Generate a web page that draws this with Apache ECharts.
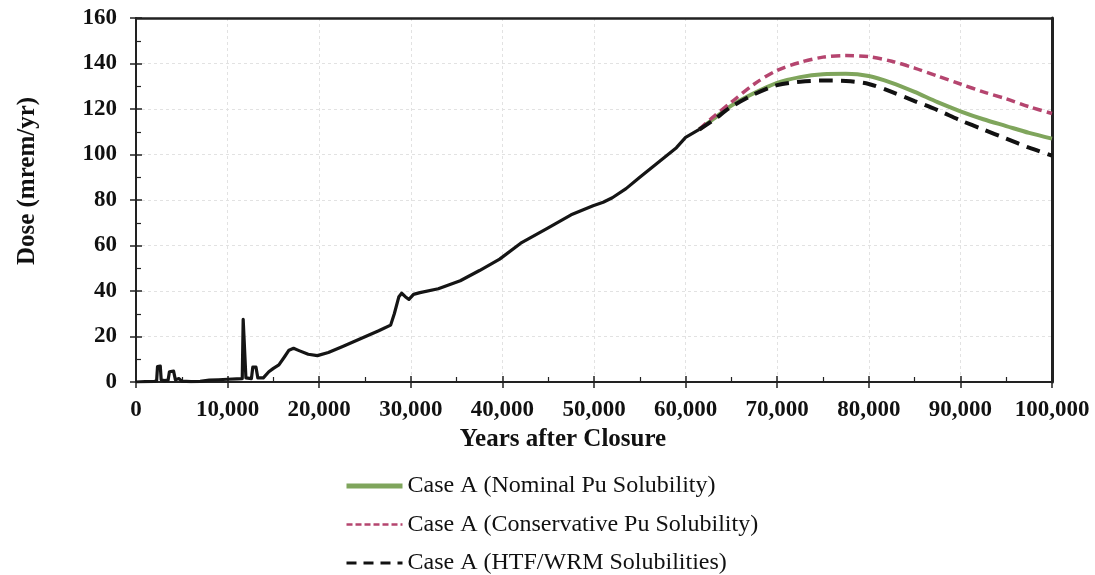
<!DOCTYPE html>
<html>
<head>
<meta charset="utf-8">
<title>Dose vs Years after Closure</title>
<script src="https://cdn.jsdelivr.net/npm/echarts@6/dist/echarts.min.js"></script>
<style>
  html, body { margin: 0; padding: 0; background: #fff; }
  #chart { width: 1095px; height: 575px; }
</style>
</head>
<body>
<div id="chart"></div>
<script>
// Dose history shared by all three cases until the curves separate (years, mrem/yr)
const sharedDose = [
  [0, 0], [1000, 0.2], [2000, 0.3], [2250, 0.5], [2350, 6.8], [2650, 7], [2750, 1],
  [3100, 0.6], [3500, 0.8], [3650, 4.5], [4100, 4.8], [4300, 1], [4700, 1.5], [5000, 0.4],
  [6000, 0.2], [7000, 0.3], [8000, 0.8], [9000, 1], [10000, 1.2], [11000, 1.4],
  [11600, 1.5], [11700, 27.5], [11900, 27.5], [12000, 1.8], [12600, 1.5], [12750, 6.5],
  [13100, 6.5], [13300, 1.8], [13900, 1.8], [14500, 4.5], [15000, 6], [15600, 7.5],
  [16200, 11], [16700, 14], [17200, 14.8], [17800, 13.8], [18800, 12.2], [19800, 11.6],
  [21000, 13], [22500, 15.5], [24500, 19], [26500, 22.5], [27800, 25], [28200, 30],
  [28700, 37.5], [29000, 39], [29400, 37.5], [29800, 36.3], [30300, 38.5], [31000, 39.3],
  [33000, 41], [35400, 44.5], [37500, 49], [39700, 54], [42000, 61], [44900, 67.5],
  [47500, 73.5], [49900, 77.5], [51000, 79], [52000, 81], [53500, 85], [55000, 90],
  [57000, 96.5], [59000, 103], [60000, 107.5], [61500, 111]
];

// Tail of each case after the curves separate
const nominalTail = [
  [61500, 111], [63000, 115.5], [65000, 121.5], [67500, 127], [70000, 131.5], [72500, 134],
  [75000, 135.3], [77500, 135.5], [80000, 134.5], [82500, 131.5], [85000, 127.5],
  [87500, 123], [90000, 119], [92500, 115.5], [95000, 112.5], [97500, 109.5], [100000, 107]
];
const conservativeTail = [
  [61500, 111], [63000, 116.5], [65000, 123], [67500, 131], [70000, 137], [72500, 140.5],
  [75000, 142.8], [77500, 143.5], [80000, 143], [82500, 141], [85000, 138], [87500, 134.5],
  [90000, 131], [92500, 127.5], [95000, 124.5], [97500, 121], [100000, 118]
];
const htfWrmTail = [
  [61500, 111], [63000, 115], [65000, 121], [67500, 126.5], [70000, 130.5], [72500, 132],
  [75000, 132.5], [77500, 132.3], [80000, 131], [82500, 127.5], [85000, 123.5],
  [87500, 119.5], [90000, 115], [92500, 111], [95000, 107], [97500, 103], [100000, 99.5]
];

const seriesNames = [
  'Case A (Nominal Pu Solubility)',
  'Case A (Conservative Pu Solubility)',
  'Case A (HTF/WRM Solubilities)'
];

const xMin = 0, xMax = 100000, xStep = 10000;
const yMin = 0, yMax = 160, yStep = 20;

const serif = '"Liberation Serif", "Times New Roman", serif';
const tickFont = { fontFamily: serif, fontWeight: 'bold', fontSize: 23, color: '#111' };
const frameColor = '#222';
const colors = { nominal: '#7fa55c', conservative: '#b5456f', htf: '#111111' };

const chart = echarts.init(document.getElementById('chart'), null, { renderer: 'canvas' });

function fmtThousands(v) {
  return v.toString().replace(/\B(?=(\d{3})+(?!\d))/g, ',');
}

const baseX = { type: 'value', min: xMin, max: xMax, interval: xStep };
const baseY = { type: 'value', min: yMin, max: yMax, interval: yStep };

// Extra axis with only inside ticks (upper half of crossing major ticks + minor ticks)
function insideTicks(base, position) {
  return Object.assign({}, base, {
    position: position,
    axisLine: { show: false },
    axisTick: { show: true, inside: true, length: 6, lineStyle: { color: frameColor, width: 1.5 } },
    minorTick: { show: true, splitNumber: 2, length: 5, lineStyle: { color: frameColor, width: 1.2 } },
    axisLabel: { show: false },
    splitLine: { show: false }
  });
}
// Axis that only draws a frame edge
function frameEdge(base, position, width) {
  return Object.assign({}, base, {
    position: position,
    axisLine: { show: true, onZero: false, lineStyle: { color: frameColor, width: width } },
    axisTick: { show: false },
    axisLabel: { show: false },
    splitLine: { show: false }
  });
}

const lineSeries = (name, data, color, width, dash, z) => ({
  name: name,
  type: 'line',
  data: data,
  smooth: 0.3,
  showSymbol: false,
  symbol: 'none',
  itemStyle: { color: color },
  lineStyle: { color: color, width: width, type: dash },
  z: z
});

chart.setOption({
  animation: false,
  backgroundColor: '#fff',
  grid: { left: 136, right: 43, top: 18, bottom: 193, show: false },
  legend: {
    data: [
      { name: seriesNames[0], lineStyle: { color: colors.nominal, width: 5, type: 'solid' } },
      { name: seriesNames[1], lineStyle: { color: colors.conservative, width: 2.5, type: [6, 3] } },
      { name: seriesNames[2], lineStyle: { color: colors.htf, width: 3, type: [10, 7] } }
    ],
    orient: 'vertical',
    left: 339,
    top: 469,
    height: 160,
    itemWidth: 56,
    itemHeight: 14,
    itemGap: 14.5,
    itemStyle: { opacity: 0, color: 'transparent', borderWidth: 0 },
    textStyle: { fontFamily: serif, fontSize: 24, lineHeight: 24, color: '#111' }
  },
  xAxis: [
    Object.assign({}, baseX, {
      name: 'Years after Closure',
      nameLocation: 'middle',
      nameGap: 36,
      nameTextStyle: { fontFamily: serif, fontWeight: 'bold', fontSize: 25, color: '#111', padding: [0, 62, 0, 0] },
      axisLine: { show: true, onZero: false, lineStyle: { color: frameColor, width: 2 } },
      axisTick: { show: true, length: 6, lineStyle: { color: frameColor, width: 1.5 } },
      axisLabel: Object.assign({ margin: 17, formatter: fmtThousands }, tickFont),
      splitLine: { show: true, lineStyle: { color: '#e2e2e2', width: 1, type: [3, 3] } }
    }),
    insideTicks(baseX, 'bottom'),
    frameEdge(baseX, 'top', 2.5)
  ],
  yAxis: [
    Object.assign({}, baseY, {
      name: 'Dose (mrem/yr)',
      nameLocation: 'middle',
      nameGap: 96,
      nameTextStyle: { fontFamily: serif, fontWeight: 'bold', fontSize: 25, color: '#111', padding: [0, 0, 0, 38] },
      axisLine: { show: true, onZero: false, lineStyle: { color: frameColor, width: 2 } },
      axisTick: { show: true, length: 6, lineStyle: { color: frameColor, width: 1.5 } },
      axisLabel: Object.assign({ margin: 19 }, tickFont),
      splitLine: { show: true, lineStyle: { color: '#e2e2e2', width: 1, type: [3, 3] } }
    }),
    insideTicks(baseY, 'left'),
    frameEdge(baseY, 'right', 3)
  ],
  series: [
    {
      name: 'shared',
      type: 'line',
      data: sharedDose,
      showSymbol: false,
      symbol: 'none',
      lineStyle: { color: '#151515', width: 3.2, join: 'round' },
      z: 3
    },
    lineSeries(seriesNames[0], nominalTail, colors.nominal, 4, 'solid', 2),
    lineSeries(seriesNames[1], conservativeTail, colors.conservative, 3.5, [9, 5], 2),
    lineSeries(seriesNames[2], htfWrmTail, colors.htf, 4, [14, 8], 4)
  ]
});
</script>
</body>
</html>
